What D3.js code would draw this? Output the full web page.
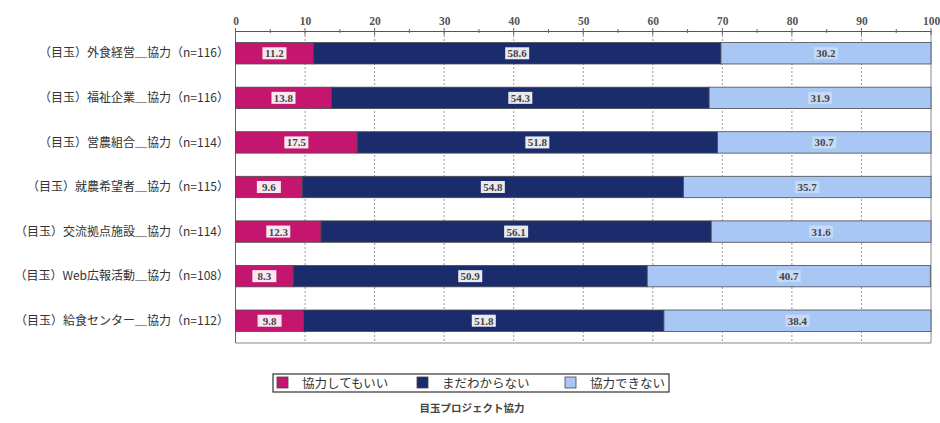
<!DOCTYPE html>
<html><head><meta charset="utf-8">
<script src="https://cdn.jsdelivr.net/npm/d3@7"></script>
<style>body{margin:0;background:#fff;}svg{display:block;}</style>
</head><body>
<svg id="chart" width="940" height="423"></svg>
<script>
const categories = [
  "（目玉）外食経営＿協力（n=116）",
  "（目玉）福祉企業＿協力（n=116）",
  "（目玉）営農組合＿協力（n=114）",
  "（目玉）就農希望者＿協力（n=115）",
  "（目玉）交流拠点施設＿協力（n=114）",
  "（目玉）Web広報活動＿協力（n=108）",
  "（目玉）給食センター＿協力（n=112）"
];
const seriesNames = ["協力してもいい", "まだわからない", "協力できない"];
const kyoryokuOK = [11.2, 13.8, 17.5, 9.6, 12.3, 8.3, 9.8];
const madaWakaranai = [58.6, 54.3, 51.8, 54.8, 56.1, 50.9, 51.8];
const kyoryokuNG = [30.2, 31.9, 30.7, 35.7, 31.6, 40.7, 38.4];
const tickValues = [0,10,20,30,40,50,60,70,80,90,100];
const chartTitle = "目玉プロジェクト協力";
const colors = ["#C4166F", "#1B2C6C", "#A8C7F4"];

const svg = d3.select("#chart");
const m = {left: 235.5, right: 931, top: 31, bottom: 343};
const x = d3.scaleLinear().domain([0,100]).range([m.left, m.right]);
const y = d3.scaleBand().domain(categories).range([m.top, m.bottom]).paddingInner(0.52).paddingOuter(0.26);

const serif = "'Liberation Serif','DejaVu Serif',serif";
const jp = "'Noto Sans CJK JP','Noto Sans',sans-serif";

// gridlines
svg.append("g").selectAll("line").data(tickValues.filter(d=>d>0 && d<100)).join("line")
  .attr("x1", d=>x(d)).attr("x2", d=>x(d)).attr("y1", m.top).attr("y2", m.bottom)
  .attr("stroke", "#9a9a9a").attr("stroke-width", 1).attr("stroke-dasharray", "2,2");

// frame
svg.append("line").attr("x1", m.left).attr("x2", m.left).attr("y1", m.top).attr("y2", m.bottom).attr("stroke","#666");
svg.append("line").attr("x1", m.right).attr("x2", m.right).attr("y1", m.top).attr("y2", m.bottom).attr("stroke","#888");
svg.append("line").attr("x1", m.left).attr("x2", m.right).attr("y1", m.bottom).attr("y2", m.bottom).attr("stroke","#888");

// top axis
const axis = d3.axisTop(x).tickValues(tickValues).tickSize(0).tickPadding(6).tickFormat(d3.format("d"));
const ag = svg.append("g").attr("transform", `translate(0,${m.top})`).call(axis);
ag.select(".domain").attr("stroke", "#555");
ag.selectAll("text").attr("font-family", serif).attr("font-size", 11.5).attr("font-weight","bold").attr("fill", "#555");
const minor = d3.range(0, 101, 5);
svg.append("g").selectAll("line").data(minor).join("line")
  .attr("x1", d=>x(d)).attr("x2", d=>x(d))
  .attr("y1", d=> d%10===0 ? m.top-3 : m.top-2).attr("y2", d=> d%10===0 ? m.top+4 : m.top+2)
  .attr("stroke", "#666");

// stacked data
const rows = categories.map((c,i)=>({cat:c, vals:[kyoryokuOK[i], madaWakaranai[i], kyoryokuNG[i]]}));
const segs = [];
rows.forEach(r=>{
  let acc = 0;
  r.vals.forEach((v,k)=>{ segs.push({cat:r.cat, k, v, x0:acc, x1:acc+v}); acc += v; });
});
svg.append("g").selectAll("rect").data(segs).join("rect")
  .attr("x", d=>x(d.x0)).attr("width", d=>Math.max(0, x(Math.min(d.x1,100))-x(d.x0)))
  .attr("y", d=>y(d.cat)).attr("height", y.bandwidth())
  .attr("fill", d=>colors[d.k]).attr("stroke", "#4a4a4a").attr("stroke-width", 0.8);

// value labels
const lg = svg.append("g").selectAll("g").data(segs).join("g")
  .attr("transform", d=>`translate(${x((d.x0+Math.min(d.x1,100))/2)},${y(d.cat)+y.bandwidth()/2})`);
lg.append("rect").attr("x", -12).attr("y", -6).attr("width", 24).attr("height", 12)
  .attr("fill", "#fff").attr("opacity", d=> d.k===2 ? 0.35 : 0.9);
lg.append("text").text(d=>d.v.toFixed(1)).attr("text-anchor","middle").attr("dy","0.36em")
  .attr("font-family", serif).attr("font-size", 11).attr("font-weight","bold").attr("fill", "#444");

// category labels
svg.append("g").selectAll("text").data(categories).join("text")
  .attr("x", 229).attr("y", d=>y(d)+y.bandwidth()/2).attr("dy","0.35em")
  .attr("text-anchor","end").attr("font-family", jp).attr("font-size", 12).attr("fill","#333")
  .text(d=>d);

// legend
const legend = svg.append("g");
legend.append("rect").attr("x", 273).attr("y", 374).attr("width", 396).attr("height", 18)
  .attr("fill","#fff").attr("stroke","#333").attr("stroke-width",1.2);
const legX = [277, 417, 565];
const li = legend.selectAll("g").data(seriesNames).join("g").attr("transform",(d,i)=>`translate(${legX[i]},377)`);
li.append("rect").attr("width", 11).attr("height", 11).attr("fill",(d,i)=>colors[i]).attr("stroke","#444").attr("stroke-width",0.8);
li.append("text").attr("x", 25).attr("y", 6).attr("dy","0.36em").attr("font-family", jp).attr("font-size", 12.5).attr("fill","#333").text(d=>d);

// title
svg.append("text").attr("x", 472).attr("y", 412).attr("text-anchor","middle")
  .attr("font-family", jp).attr("font-size", 10.5).attr("font-weight","bold").attr("fill","#444").text(chartTitle);
</script>
</body></html>
